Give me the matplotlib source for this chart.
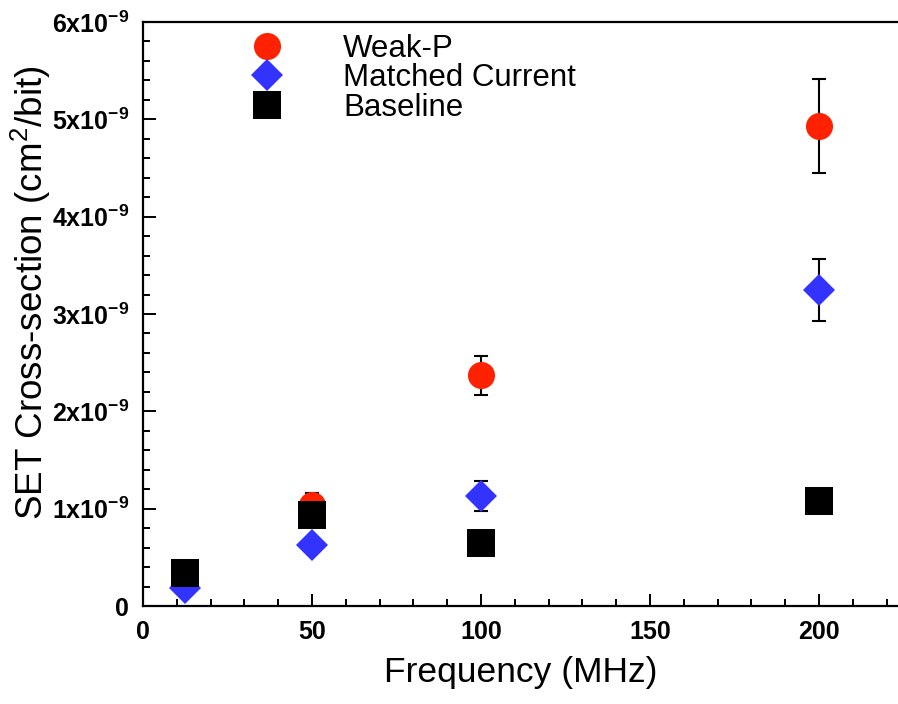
import numpy as np
import matplotlib
matplotlib.use('Agg')
import matplotlib.pyplot as plt
from matplotlib.lines import Line2D
from matplotlib.ticker import MultipleLocator, FixedLocator, FixedFormatter

plt.rcParams['font.family'] = ['Liberation Sans', 'DejaVu Sans']
plt.rcParams['mathtext.default'] = 'regular'

# data (cross-section in units of 1e-9 cm^2/bit)
freq = [12.5, 50, 100, 200]
weak_p = [0.30, 1.04, 2.37, 4.93]
weak_p_err = [0.03, 0.12, 0.20, 0.48]
matched = [0.19, 0.63, 1.13, 3.25]
matched_err = [0.02, 0.05, 0.15, 0.32]
baseline = [0.34, 0.94, 0.65, 1.08]
baseline_err = [0.03, 0.05, 0.04, 0.06]
scale = 1e-9

yticks = [0, 1, 2, 3, 4, 5, 6]
ytick_labels = ['0', r'1x10$^{-9}$', r'2x10$^{-9}$', r'3x10$^{-9}$',
                r'4x10$^{-9}$', r'5x10$^{-9}$', r'6x10$^{-9}$']
xticks = [0, 50, 100, 150, 200]

series = [
    ('Weak-P', weak_p, weak_p_err, 'o', '#ff2200', 19.5),
    ('Matched Current', matched, matched_err, 'D', '#3333ff', 16),
    ('Baseline', baseline, baseline_err, 's', 'black', 19.5),
]

fig = plt.figure(figsize=(8.98, 7.04), dpi=100)
ax = fig.add_axes([143/898, 98/704, 1 - 143/898, (606-22)/704])

handles = []
for z, (name, y, err, mk, col, ms) in enumerate(series):
    y = np.array(y) * scale
    e = np.array(err) * scale
    ax.errorbar(freq, y, yerr=e, fmt='none', ecolor='black', elinewidth=1.5,
                capsize=5, capthick=1.5, zorder=2 + 2*z)
    ax.plot(freq, y, linestyle='none', marker=mk, color=col, markersize=ms,
            markeredgewidth=0, zorder=3 + 2*z)
    handles.append(Line2D([], [], linestyle='none', marker=mk, color=col,
                          markersize=ms, markeredgewidth=0, label=name))

ax.set_xlim(0, (898-143)/3.38)
ax.set_ylim(0, 6e-9)
ax.xaxis.set_major_locator(FixedLocator(xticks))
ax.xaxis.set_minor_locator(MultipleLocator(10))
ax.yaxis.set_major_locator(FixedLocator([v*scale for v in yticks]))
ax.yaxis.set_major_formatter(FixedFormatter(ytick_labels))
ax.yaxis.set_minor_locator(MultipleLocator(0.2e-9))

ax.spines['right'].set_visible(False)
for s in ['left', 'bottom', 'top']:
    ax.spines[s].set_linewidth(1.6)
ax.tick_params(which='both', direction='in', width=1.4, top=False, right=False)
ax.tick_params(which='major', length=9, labelsize=18, pad=10)
ax.tick_params(which='minor', length=5)
for lab in ax.get_xticklabels() + ax.get_yticklabels():
    lab.set_fontweight('bold')

ax.set_xlabel('Frequency (MHz)', fontsize=25.5, labelpad=9)
ax.set_ylabel(r'SET Cross-section (cm$^{2}$/bit)', fontsize=26.5)
ax.yaxis.set_label_coords(-0.119, 0.536)

ax.legend(handles=handles, loc='upper left', bbox_to_anchor=(236/898, 1 - 34/704),
          bbox_transform=fig.transFigure, frameon=False, fontsize=22.5,
          handlelength=2, handletextpad=1.43, borderpad=0, borderaxespad=0,
          labelspacing=-0.02, numpoints=1)

fig.savefig('out.png', dpi=100)
